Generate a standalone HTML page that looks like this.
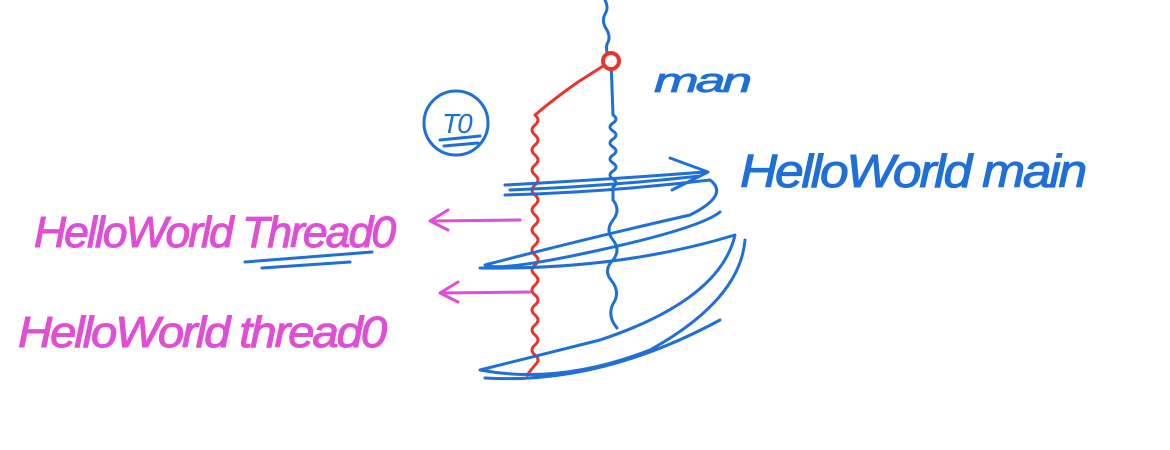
<!DOCTYPE html>
<html>
<head>
<meta charset="utf-8">
<style>
html,body{margin:0;padding:0;background:#fff;}
svg{display:block;}
.hw{font-family:"Liberation Sans",sans-serif;font-style:italic;letter-spacing:-2px;}
</style>
</head>
<body>
<svg width="1170" height="450" viewBox="0 0 1170 450">
  <g fill="none" stroke-linecap="round" stroke-linejoin="round">
    <path stroke="#1f6fd8" stroke-width="3"
      d="M605 0 q4 8 0 14 q-4 8 2 16 q4 8 0 14 q-2 8 4 17 L613 115 q6 4 0 8 q-6 4 0 8 q6 4 0 8 q-6 4 0 8 q6 4 0 8 q-6 4 0 8 q6 4 0 8 q-6 4 0 8 q6 4 0 8 L613 200 q8 10 0 20 q-8 10 0 20 q8 10 0 20 q-10 10 -2 20 q10 12 2 24 q-6 12 4 24"/>
    <path stroke="#e8352b" stroke-width="3"
      d="M611 61 L578 82 Q555 98 535 115 q6 5 0 10 q-6 5 0 10 q6 5 0 10 q-6 5 0 10 q6 5 0 10 q-6 5 0 10 q6 5 0 10 q-6 5 0 10 q6 5 0 10 q-6 5 0 10 q6 5 0 10 q-6 5 0 10 q6 5 0 10 q-6 5 0 10 q6 5 0 10 q-6 5 0 10 q6 5 0 10 q-6 5 0 10 q6 5 0 10 q-6 5 0 10 q6 5 0 10 q-6 5 0 10 q6 5 0 10 q-6 5 0 10 q6 5 0 10 l-8 10"/>
    <circle cx="611" cy="61" r="8" stroke="#e8352b" stroke-width="4" fill="#fff"/>
    <path stroke="#1f6fd8" stroke-width="3"
      d="M505 185 Q600 180 705 172 M510 190 Q610 186 700 176 M505 195 Q610 192 710 180 Q730 195 690 215 Q580 240 485 265 Q500 272 600 250 Q700 228 720 212 M480 268 Q620 270 735 235 Q720 300 600 340 Q520 360 480 370 Q560 385 650 350 Q740 300 745 240 M485 378 Q600 385 720 320"/>
    <path stroke="#1f6fd8" stroke-width="3" d="M670 158 L708 172 L672 190"/>
    <circle cx="456" cy="123" r="32" stroke="#1f6fd8" stroke-width="3"/>
    <path stroke="#1f6fd8" stroke-width="3" d="M440 140 L480 136 M444 146 L478 143"/>
    <path stroke="#e04ed6" stroke-width="3" d="M520 220 L432 221 M448 210 L430 221 L448 230"/>
    <path stroke="#e04ed6" stroke-width="3" d="M530 292 L442 293 M458 282 L440 293 L458 302"/>
    <path stroke="#1f6fd8" stroke-width="3" d="M245 262 L372 252 M262 268 L350 262"/>
  </g>
  <text class="hw" x="654" y="92" font-size="34" fill="#1f6fd8" stroke="#1f6fd8" stroke-width="0.8" textLength="95" lengthAdjust="spacingAndGlyphs">man</text>
  <text class="hw" x="442" y="133" font-size="28" fill="#1f6fd8">T0</text>
  <text class="hw" x="740" y="187" font-size="46" fill="#1f6fd8" stroke="#1f6fd8" stroke-width="1" textLength="345" lengthAdjust="spacingAndGlyphs">HelloWorld  main</text>
  <text class="hw" x="34" y="247" font-size="44" fill="#e04ed6" stroke="#e04ed6" stroke-width="1" textLength="360" lengthAdjust="spacingAndGlyphs">HelloWorld Thread0</text>
  <text class="hw" x="18" y="347" font-size="44" fill="#e04ed6" stroke="#e04ed6" stroke-width="1" textLength="367" lengthAdjust="spacingAndGlyphs">HelloWorld thread0</text>
</svg>
</body>
</html>
